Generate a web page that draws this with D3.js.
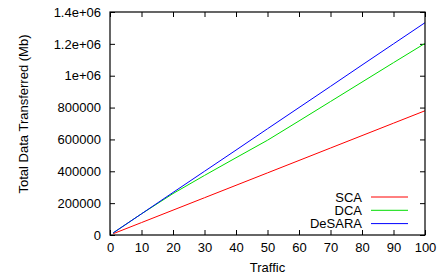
<!DOCTYPE html>
<html>
<head>
<meta charset="utf-8">
<script src="https://cdn.jsdelivr.net/npm/d3@7"></script>
<style>
  body { margin: 0; background: #fff; }
  svg { display: block; font-family: "Liberation Sans", Arial, sans-serif; }
</style>
</head>
<body>
<svg id="chart" width="448" height="278"></svg>
<script>
// traffic values (x)
var traffic = [1, 10, 20, 30, 40, 50, 60, 70, 80, 90, 100];
// total data transferred (Mb)
var sca    = [8000, 78000, 156000, 234000, 312000, 390000, 468000, 546000, 624000, 702000, 780000];
var dca    = [13000, 133000, 260000, 374000, 485000, 595000, 716000, 838000, 960000, 1082000, 1203000];
var desara = [13000, 133000, 267000, 400000, 533000, 667000, 800000, 933000, 1067000, 1200000, 1333000];

var seriesNames = ["SCA", "DCA", "DeSARA"];
var seriesColors = ["#ff0000", "#00dd00", "#0000ff"];

var xTicks = [0, 10, 20, 30, 40, 50, 60, 70, 80, 90, 100];
var yTicks = [0, 200000, 400000, 600000, 800000, 1000000, 1200000, 1400000];
var yTickLabels = ["0", "200000", "400000", "600000", "800000", "1e+06", "1.2e+06", "1.4e+06"];

var svg = d3.select("svg"),
    margin = { top: 12, right: 23, bottom: 43, left: 110 };
var width = 448 - margin.left - margin.right,
    height = 278 - margin.top - margin.bottom;

var g = svg.append("g")
  .attr("transform", "translate(" + margin.left + "," + margin.top + ")");

var x = d3.scaleLinear().domain([0, 100]).range([0, width]);
var y = d3.scaleLinear().domain([0, 1400000]).range([height, 0]);

function styleAxis(sel) {
  sel.select(".domain").remove();
  sel.selectAll(".tick line").attr("stroke", "#000");
  sel.selectAll("text").attr("fill", "#000").style("font-size", "13px");
}

// bottom / left with labels, ticks pointing inward
g.append("g")
  .attr("transform", "translate(0," + height + ")")
  .call(d3.axisBottom(x).tickValues(xTicks).tickSize(-5).tickPadding(8))
  .call(styleAxis);

g.append("g")
  .call(d3.axisLeft(y).tickValues(yTicks).tickSize(-5).tickPadding(9)
    .tickFormat(function(d, i) { return yTickLabels[i]; }))
  .call(styleAxis);

// mirrored ticks
g.append("g")
  .call(d3.axisTop(x).tickValues(xTicks).tickSize(-5).tickFormat(""))
  .call(styleAxis);
g.append("g")
  .attr("transform", "translate(" + width + ",0)")
  .call(d3.axisRight(y).tickValues(yTicks).tickSize(-5).tickFormat(""))
  .call(styleAxis);

var line = d3.line()
  .x(function(d) { return x(d[0]); })
  .y(function(d) { return y(d[1]); });

[sca, dca, desara].forEach(function(vals, i) {
  g.append("path")
    .datum(traffic.map(function(t, j) { return [t, vals[j]]; }))
    .attr("fill", "none")
    .attr("stroke", seriesColors[i])
    .attr("stroke-width", 1)
    .attr("d", line);
});

// frame
g.append("rect")
  .attr("width", width)
  .attr("height", height)
  .attr("fill", "none")
  .attr("stroke", "#000")
  .attr("stroke-width", 1.2);

// legend
var legend = g.append("g").attr("transform", "translate(" + (width - 174 + 110 - 110) + ",0)");
seriesNames.forEach(function(name, i) {
  var ly = 185 + i * 13.3;
  g.append("text")
    .attr("x", 252)
    .attr("y", ly)
    .attr("dy", "0.35em")
    .attr("text-anchor", "end")
    .style("font-size", "13px")
    .text(name);
  g.append("line")
    .attr("x1", 261).attr("x2", 298)
    .attr("y1", ly).attr("y2", ly)
    .attr("stroke", seriesColors[i])
    .attr("stroke-width", 1);
});

// axis titles
svg.append("text")
  .attr("x", margin.left + width / 2)
  .attr("y", 272)
  .attr("text-anchor", "middle")
  .style("font-size", "13px")
  .text("Traffic");

svg.append("text")
  .attr("transform", "translate(28," + 114 + ") rotate(-90)")
  .attr("text-anchor", "middle")
  .style("font-size", "13px")
  .text("Total Data Transferred (Mb)");
</script>
</body>
</html>
